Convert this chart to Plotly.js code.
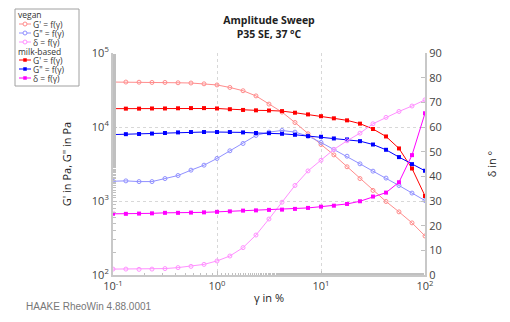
<!DOCTYPE html>
<html><head><meta charset="utf-8">
<script src="https://cdn.plot.ly/plotly-3.0.1.min.js"></script>
<style>html,body{margin:0;padding:0;background:#fff}#chart{width:510px;height:322px}</style>
</head><body><div id="chart"></div>
<script>
// strain amplitude γ in %
const gamma = [0.1,0.133,0.178,0.237,0.316,0.422,0.562,0.75,1,1.33,1.78,2.37,3.16,4.22,5.62,7.5,10,13.3,17.8,23.7,31.6,42.2,56.2,75,100];
// vegan
const veganGp  = [40500,40500,40300,40000,40000,39600,39300,38300,37000,34200,30900,26300,20400,15900,11500,8100,5800,4200,2900,2010,1390,985,713,506,337];
const veganGpp = [1850,1870,1830,1830,2010,2210,2610,3050,3760,4770,5990,7690,8530,8980,8530,7530,6180,4970,4030,3180,2530,2040,1620,1280,1015];
const veganDelta = [2.4,2.4,2.3,2.4,2.6,3.0,3.5,4.3,5.7,7.7,11.1,16.2,22.7,29.5,36.3,42.2,46.5,50.9,54.4,57.5,61.3,63.9,66.3,68.5,71.0];
// milk-based
const milkGp  = [17700,17700,17700,17800,17800,17900,18000,18000,17800,17400,17000,16800,16700,16400,15600,14800,14000,13100,12300,11100,9400,7450,5130,2750,1170];
const milkGpp = [7900,8000,8050,8150,8300,8450,8550,8550,8550,8550,8450,8300,8250,8100,7850,7530,7380,7000,6790,6440,5800,4920,3920,3150,2560];
const milkDelta = [24.8,24.8,24.9,25.0,25.2,25.2,25.3,25.4,25.6,25.8,26.1,26.2,26.4,26.5,26.8,27.2,27.7,28.1,28.8,29.9,31.8,33.4,37.6,48.6,65.6];

// tick labels
const xTickVals = [0.1, 1, 10, 100];
const xTickText = ['10<sup>-1</sup>','10<sup>0</sup>','10<sup>1</sup>','10<sup>2</sup>'];
const yTickVals = [100, 1000, 10000, 100000];
const yTickText = ['10<sup>2</sup>','10<sup>3</sup>','10<sup>4</sup>','10<sup>5</sup>'];

const groupNames = ['vegan','milk-based'];
const itemLabels = ["G' = f(γ)", 'G" = f(γ)', 'δ = f(γ)'];
const veganColors = ['#ff8c8c','#9090ff','#ff90ff'];
const milkColors = ['#ff0000','#0000ff','#ff00ff'];

function tr(y, color, open, axis){
  return {x: gamma, y: y, type:'scatter', mode:'lines+markers', yaxis: axis,
    line:{color: color, width: 1},
    marker: open ? {symbol:'circle-open', size:4, color: color, line:{width:1, color: color}}
                 : {symbol:'square', size:4, color: color},
    hoverinfo:'skip', showlegend:false};
}
const data = [
  tr(veganGp, veganColors[0], true, 'y'),
  tr(veganGpp, veganColors[1], true, 'y'),
  tr(veganDelta, veganColors[2], true, 'y2'),
  tr(milkGp, milkColors[0], false, 'y'),
  tr(milkGpp, milkColors[1], false, 'y'),
  tr(milkDelta, milkColors[2], false, 'y2')
];

// pixel -> paper helpers (plot area 113..425 x, 53..275 y)
const L=113, R=425, T=53, B=275;
const px = p => (p-L)/(R-L);
const py = p => (B-p)/(B-T);

const shapes = [];
const annotations = [];
// legend box
shapes.push({type:'rect', xref:'paper', yref:'paper', x0:px(15), x1:px(79), y0:py(86), y1:py(9),
  line:{color:'#a0a0a0', width:1}, fillcolor:'#ffffff', layer:'above'});
const rows = [[15,24,33,42],[51,60,69,78]];
const colorsets = [veganColors, milkColors];
const legFont = {family:'Open Sans', size:8.5, color:'#333'};
for (let g=0; g<2; g++){
  annotations.push({xref:'paper', yref:'paper', x:px(17), y:py(rows[g][0]), xanchor:'left', yanchor:'middle',
    text: groupNames[g], showarrow:false, font:legFont, borderpad:0});
  for (let i=0;i<3;i++){
    const yy = rows[g][i+1];
    const c = colorsets[g][i];
    shapes.push({type:'line', xref:'paper', yref:'paper', x0:px(19), x1:px(31), y0:py(yy), y1:py(yy), line:{color:c, width:1}, layer:'above'});
    if (g===0){
      shapes.push({type:'circle', xref:'paper', yref:'paper', x0:px(23), x1:px(27), y0:py(yy+2), y1:py(yy-2), line:{color:c, width:1}, fillcolor:'#ffffff', layer:'above'});
    } else {
      shapes.push({type:'rect', xref:'paper', yref:'paper', x0:px(23.5), x1:px(26.5), y0:py(yy+1.5), y1:py(yy-1.5), line:{color:c, width:0.5}, fillcolor:c, layer:'above'});
    }
    annotations.push({xref:'paper', yref:'paper', x:px(32), y:py(yy), xanchor:'left', yanchor:'middle',
      text: itemLabels[i], showarrow:false, font:legFont, borderpad:0});
  }
}
annotations.push({xref:'paper', yref:'paper', x:px(24), y:py(306), xanchor:'left', yanchor:'middle',
  text:'HAAKE RheoWin 4.88.0001', showarrow:false, font:{family:'Liberation Sans, Arial', size:10, color:'#777'}});

const tickFont = {family:'Open Sans', size:11, color:'#444'};
const axisCommon = {showline:true, linecolor:'#c8c8c8', linewidth:2, ticks:'inside', ticklen:4, tickcolor:'#c0c0c0',
  tickfont: tickFont, zeroline:false, mirror:false};

const layout = {
  width:510, height:322,
  margin:{l:L, r:510-R, t:T, b:322-B, pad:0},
  paper_bgcolor:'#fff', plot_bgcolor:'#fff',
  showlegend:false,
  title:{text:'<b>Amplitude Sweep</b><br><b>P35 SE, 37 °C</b>', x:0.5, xref:'paper', y:0.925, yref:'container', yanchor:'top',
    font:{family:'Open Sans', size:10.5, color:'#222'}},
  xaxis: Object.assign({}, axisCommon, {type:'log', range:[-1,2], tickmode:'array', tickvals:xTickVals, ticktext:xTickText,
    showgrid:true, gridcolor:'#d8d8d8', griddash:'dot', gridwidth:1,
    minor:{ticks:'inside', ticklen:2.5, tickcolor:'#c0c0c0', showgrid:false},
    title:{text:'γ in %', standoff:2, font:{family:'Open Sans', size:11, color:'#222'}}}),
  yaxis: Object.assign({}, axisCommon, {type:'log', range:[2,5], tickmode:'array', tickvals:yTickVals, ticktext:yTickText,
    showgrid:true, gridcolor:'#d8d8d8', griddash:'dot', gridwidth:1,
    minor:{ticks:'inside', ticklen:2.5, tickcolor:'#c0c0c0', showgrid:false},
    title:{text:'G\' in Pa, G" in Pa', standoff:18, font:{family:'Open Sans', size:11, color:'#222'}}}),
  yaxis2: Object.assign({}, axisCommon, {overlaying:'y', side:'right', range:[0,90], dtick:10, showgrid:false,
    title:{text:'δ in °', standoff:48, font:{family:'Open Sans', size:11, color:'#222'}}}),
  shapes: shapes,
  annotations: annotations
};
Plotly.newPlot('chart', data, layout, {staticPlot:true, displayModeBar:false});
</script></body></html>
